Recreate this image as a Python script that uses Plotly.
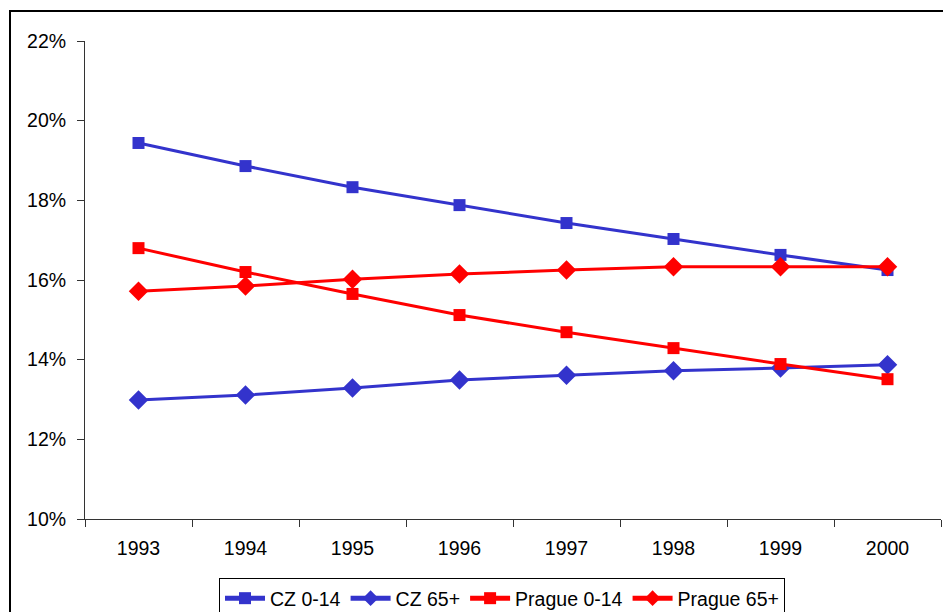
import plotly.graph_objects as go

years = ["1993", "1994", "1995", "1996", "1997", "1998", "1999", "2000"]
cz_0_14 = [19.44, 18.86, 18.33, 17.88, 17.43, 17.03, 16.63, 16.25]
cz_65 = [12.99, 13.11, 13.29, 13.49, 13.61, 13.72, 13.79, 13.87]
prague_0_14 = [16.80, 16.20, 15.65, 15.12, 14.69, 14.29, 13.89, 13.51]
prague_65 = [15.72, 15.85, 16.02, 16.15, 16.25, 16.33, 16.33, 16.33]
y_ticks = [10, 12, 14, 16, 18, 20, 22]
y_labels = ["10%", "12%", "14%", "16%", "18%", "20%", "22%"]

BLUE = "#3333CC"
RED = "#FF0000"

series = [
    ("CZ 0-14", cz_0_14, BLUE, "square", 12),
    ("CZ 65+", cz_65, BLUE, "diamond", 15),
    ("Prague 0-14", prague_0_14, RED, "square", 12),
    ("Prague 65+", prague_65, RED, "diamond", 15),
]

fig = go.Figure()
for name, vals, col, sym, sz in series:
    fig.add_trace(go.Scatter(
        x=years, y=vals, name=name, mode="lines+markers",
        line=dict(color=col, width=3),
        marker=dict(symbol=sym, size=sz, color=col),
    ))

W, H = 943, 612
L, R, T, B = 85, 2, 41, 93
pw = W - L - R
ph = H - T - B

fig.update_layout(
    width=W, height=H,
    margin=dict(l=L, r=R, t=T, b=B, pad=0, autoexpand=False),
    paper_bgcolor="white", plot_bgcolor="white",
    font=dict(family="Liberation Sans, Arial, sans-serif", size=19.5, color="black"),
    showlegend=True,
    legend=dict(
        orientation="h", x=(219 - L) / pw, xanchor="left", y=-(578 - 519) / ph, yanchor="top",
        bordercolor="black", borderwidth=1, bgcolor="white",
        font=dict(size=19.5), itemwidth=40, tracegroupgap=0, itemsizing="constant",
    ),
    xaxis=dict(
        type="category", tickson="boundaries", ticks="outside", ticklen=7,
        tickcolor="#333333", showline=True, linecolor="#333333", linewidth=1,
        showgrid=False, zeroline=False, range=[-0.5, 7.5],
        tickfont=dict(size=19.5), ticklabelstandoff=12, automargin=False,
    ),
    yaxis=dict(
        range=[10, 22], tickvals=y_ticks, ticktext=y_labels, ticks="outside", ticklen=7,
        tickcolor="#333333", showline=True, linecolor="#333333", linewidth=1,
        showgrid=False, zeroline=False, tickfont=dict(size=19.5),
        ticklabelstandoff=7, automargin=False,
    ),
    shapes=[dict(
        type="rect", xref="paper", yref="paper",
        x0=(10 - L) / pw, x1=1.05, y0=-0.3, y1=1 + (T - 11) / ph,
        line=dict(color="black", width=2), fillcolor="rgba(0,0,0,0)", layer="below",
    )],
)

fig.write_html("out.html")
